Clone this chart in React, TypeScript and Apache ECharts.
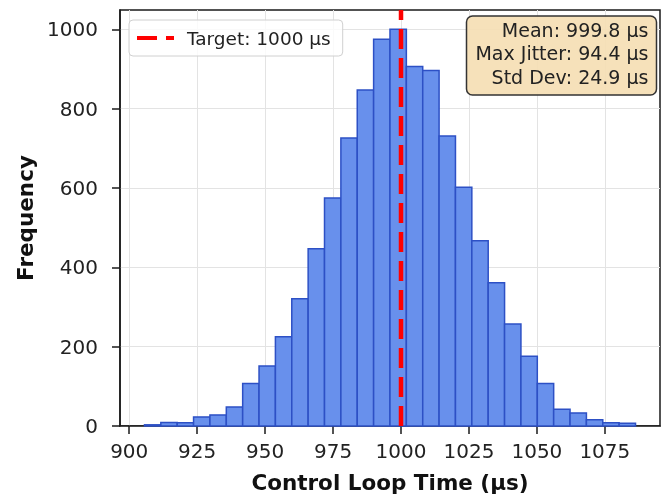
import React, { useEffect, useRef } from "react";
import * as echarts from "echarts";

// ---- data ----
const binStart = 905.6;
const binWidth = 6.023;
const binCounts = [3, 9, 8, 23, 28, 48, 107, 151, 225, 321, 447, 575, 726, 847, 975, 1000, 906, 896, 731, 602, 467, 361, 257, 176, 107, 42, 33, 16, 8, 7];
const xTickValues = [900, 925, 950, 975, 1000, 1025, 1050, 1075];
const yTickValues = [0, 200, 400, 600, 800, 1000];
const targetValue = 1000;
const targetLabel = "Target: 1000 µs";
const statsLines = ["Mean: 999.8 µs", "Max Jitter: 94.4 µs", "Std Dev: 24.9 µs"];
const xLabel = "Control Loop Time (µs)";
const yLabel = "Frequency";
const xRange = [896.6, 1095.3];
const yRange = [0, 1048.7];

const FONT = "DejaVu Sans";

export default function App() {
  const ref = useRef<HTMLDivElement>(null);
  useEffect(() => {
    if (!ref.current) return;
    const chart = echarts.init(ref.current, undefined, { renderer: "svg" });
    const histData = binCounts.map((c, i) => [binStart + i * binWidth, binStart + (i + 1) * binWidth, c]);
    const axisLineStyle = { color: "#1a1a1a", width: 1.5 };
    const fmt = (v: number) => String(v);
    chart.setOption({
      animation: false,
      textStyle: { fontFamily: FONT },
      grid: {
        left: 120,
        right: 7,
        top: 10,
        bottom: 71,
        show: true,
        borderColor: "#1a1a1a",
        borderWidth: 1.5,
        backgroundColor: "#fff",
      },
      legend: {
        left: 129,
        top: 20,
        data: [{ name: targetLabel, icon: "path://M0,0H20V4H0Z M29,0H37V4H29Z" }],
        itemWidth: 37,
        itemHeight: 5,
        itemGap: 10,
        padding: [8, 12, 8, 8],
        backgroundColor: "rgba(255,255,255,0.8)",
        borderColor: "#d0d0d0",
        borderWidth: 1,
        borderRadius: 4,
        textStyle: { fontSize: 18.5, color: "#222", fontFamily: FONT, lineHeight: 20, padding: [0, 0, 0, 8] },
      },
      xAxis: {
        type: "value",
        min: xRange[0],
        max: xRange[1],
        name: xLabel,
        nameLocation: "middle",
        nameGap: 45,
        nameTextStyle: { fontSize: 21.5, fontWeight: "bold", color: "#111", fontFamily: FONT },
        axisLine: { show: true, lineStyle: axisLineStyle },
        axisTick: { show: true, length: 8, lineStyle: axisLineStyle, customValues: xTickValues },
        axisLabel: { fontSize: 20, color: "#222", margin: 15, customValues: xTickValues, fontFamily: FONT, formatter: fmt },
        splitLine: { show: true, lineStyle: { color: "#e3e3e3", width: 1 } },
      },
      yAxis: {
        type: "value",
        min: yRange[0],
        max: yRange[1],
        name: yLabel,
        nameLocation: "middle",
        nameGap: 78,
        nameTextStyle: { fontSize: 21.5, fontWeight: "bold", color: "#111", fontFamily: FONT },
        axisLine: { show: true, lineStyle: axisLineStyle },
        axisTick: { show: true, length: 8, lineStyle: axisLineStyle, customValues: yTickValues },
        axisLabel: { fontSize: 20, color: "#222", margin: 22, customValues: yTickValues, fontFamily: FONT, formatter: fmt },
        splitLine: { show: true, lineStyle: { color: "#e3e3e3", width: 1 } },
      },
      series: [
        {
          type: "custom",
          name: "hist",
          data: histData,
          encode: { x: [0, 1], y: 2 },
          z: 2,
          renderItem: (params: any, api: any) => {
            const x0 = api.value(0);
            const x1 = api.value(1);
            const c = api.value(2);
            const p0 = api.coord([x0, c]);
            const p1 = api.coord([x1, 0]);
            return {
              type: "rect",
              shape: { x: p0[0], y: p0[1], width: p1[0] - p0[0], height: p1[1] - p0[1] },
              style: { fill: "#6890ec", stroke: "#2d50c5", lineWidth: 1.5 },
            };
          },
        },
        {
          type: "line",
          name: targetLabel,
          data: [
            [targetValue, yRange[0]],
            [targetValue, yRange[1]],
          ],
          symbol: "none",
          z: 5,
          color: "#ff0000",
          lineStyle: { color: "#ff0000", width: 4.5, type: [20, 9] },
        },
      ],
      graphic: [
        {
          type: "rect",
          z: 100,
          shape: { x: 466.5, y: 16, width: 190, height: 79, r: 6 },
          style: { fill: "rgba(245,222,179,0.9)", stroke: "#333", lineWidth: 1.5 },
        },
        {
          type: "text",
          z: 101,
          x: 648.5,
          y: 18.5,
          style: {
            text: statsLines.join("\n"),
            align: "right",
            verticalAlign: "top",
            fontSize: 19,
            lineHeight: 23.3,
            fontFamily: FONT,
            fill: "#222",
          },
        },
      ],
    });
    return () => chart.dispose();
  }, []);
  return <div ref={ref} style={{ position: "fixed", left: 0, top: 0, width: 667, height: 498 }} />;
}
